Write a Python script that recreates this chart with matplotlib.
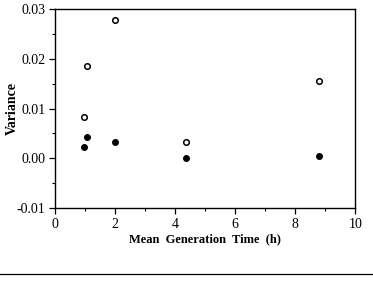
import matplotlib.pyplot as plt
from matplotlib.lines import Line2D
from matplotlib.ticker import MultipleLocator

# Values
gen_time = [0.98, 1.08, 1.99, 4.37, 8.79]
var_open = [0.0083, 0.0185, 0.0279, 0.0033, 0.0156]
var_filled = [0.0022, 0.0043, 0.0033, 0.0000, 0.0004]

plt.rcParams['font.family'] = ['Liberation Serif', 'DejaVu Serif']

fig = plt.figure(figsize=(3.73, 2.83), dpi=100)
ax = fig.add_axes([0.1475, 0.265, 0.805, 0.703])

ax.plot(gen_time, var_open, 'o', mfc='white', mec='black', mew=1.1, ms=4)
ax.plot(gen_time, var_filled, 'o', color='black', ms=4)

ax.set_xlim(0, 10)
ax.set_ylim(-0.01, 0.03)
ax.xaxis.set_major_locator(MultipleLocator(2))
ax.xaxis.set_minor_locator(MultipleLocator(1))
ax.yaxis.set_major_locator(MultipleLocator(0.01))
ax.yaxis.set_minor_locator(MultipleLocator(0.005))
ax.yaxis.set_major_formatter(plt.FormatStrFormatter('%.2f'))
ax.tick_params(which='major', direction='out', length=4, width=0.9,
               labelsize=10, pad=3)
ax.tick_params(which='minor', direction='out', length=2, width=0.8)
for s in ax.spines.values():
    s.set_linewidth(1.0)

ax.set_xlabel('Mean  Generation  Time  (h)', fontsize=9, fontweight='bold',
              labelpad=2)
ax.set_ylabel('Variance', fontsize=10, fontweight='bold')
ax.yaxis.set_label_coords(-0.12, 0.5)

# rule across the bottom of the page
fig.add_artist(Line2D([0, 1], [1 - 274 / 283] * 2, color='black', lw=0.9))

fig.savefig('out.png', dpi=100)
